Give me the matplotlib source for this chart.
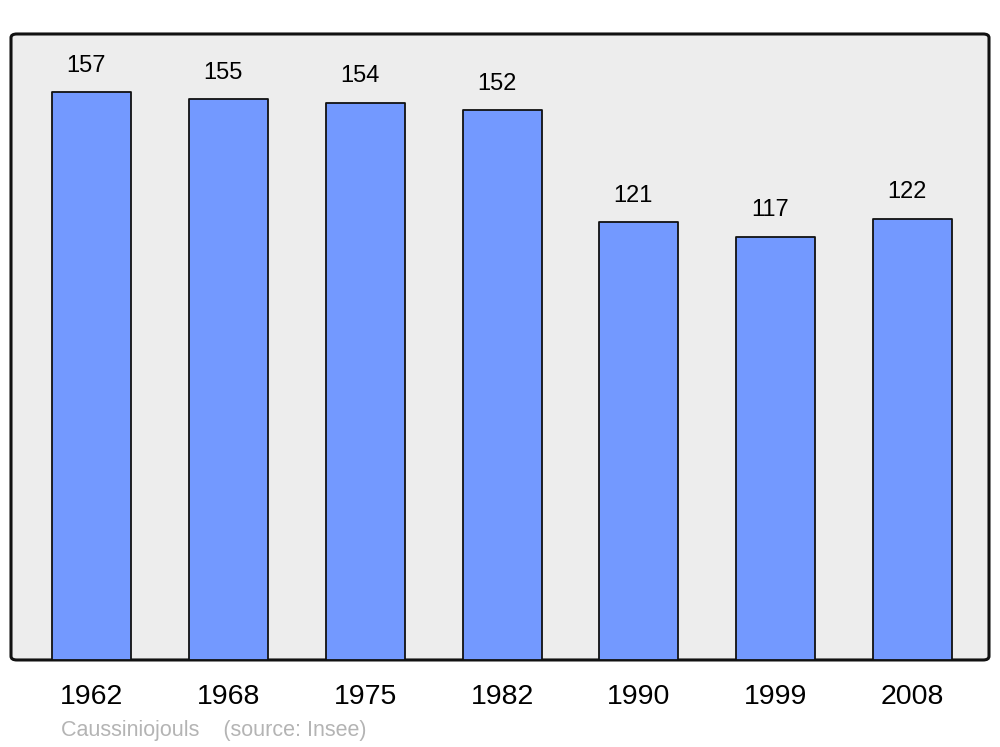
import matplotlib.pyplot as plt
from matplotlib.patches import FancyBboxPatch

plt.rcParams["font.family"] = ["Liberation Sans", "DejaVu Sans"]

years = ["1962", "1968", "1975", "1982", "1990", "1999", "2008"]
population = [157, 155, 154, 152, 121, 117, 122]
commune = "Caussiniojouls"
source = "(source: Insee)"

fig = plt.figure(figsize=(10, 7.47), dpi=100)
ax = fig.add_axes([0.011, 0.1165, 0.978, 0.838])

# rounded frame drawn behind the bars
frame = FancyBboxPatch((0, 0), 1, 1, boxstyle="round,pad=0,rounding_size=0.006",
                       transform=ax.transAxes, facecolor="#ededed",
                       edgecolor="#111111", linewidth=2.2, zorder=0, clip_on=False)
ax.add_patch(frame)
ax.set_facecolor("none")
for s in ax.spines.values():
    s.set_visible(False)

x = list(range(len(years)))
bars = ax.bar(x, population, width=0.578, color="#7399ff", edgecolor="#111111",
              linewidth=1.3, zorder=2)
for b in bars:
    b.set_joinstyle("round")

for xi, v in zip(x, population):
    ax.annotate(str(v), (xi, v), xytext=(-4, 11), textcoords="offset points",
                ha="center", va="bottom", fontsize=17)

ax.set_xlim(-0.59, 6.56)
ax.set_ylim(0, 173)
ax.set_xticks(x)
ax.set_xticklabels(years, fontsize=20.5)
ax.tick_params(axis="x", length=0, pad=17)
ax.set_yticks([])

fig.text(0.061, 0.008, commune + "    " + source, fontsize=15.5, color="#b4b4b4",
         ha="left", va="bottom")

fig.savefig("out.png", dpi=100)
